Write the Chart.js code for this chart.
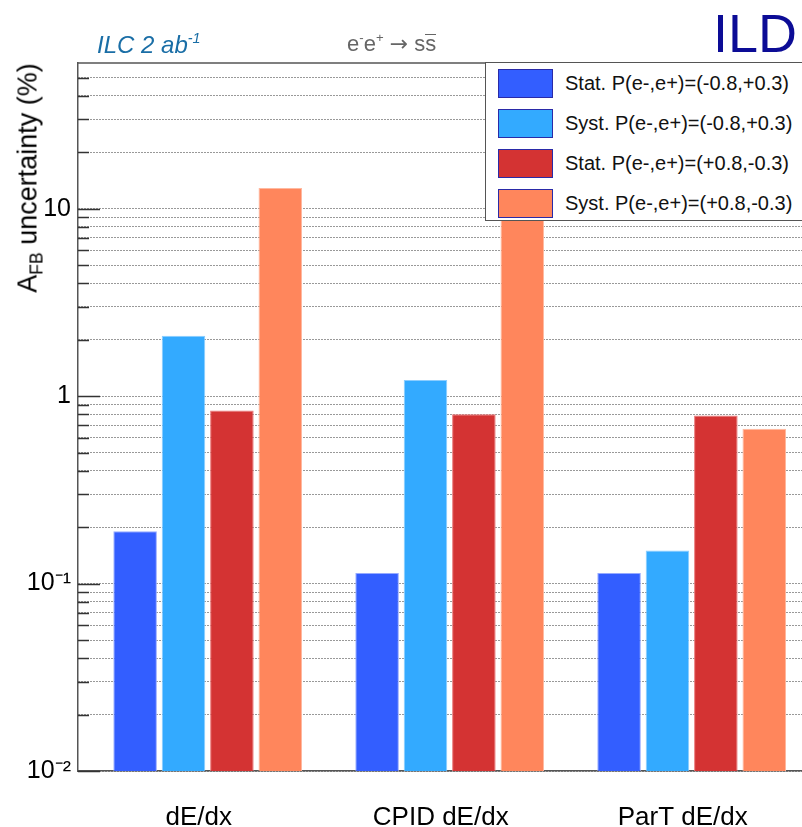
<!DOCTYPE html>
<html>
<head>
<meta charset="utf-8">
<style>
  body { margin: 0; background: #fff; font-family: "Liberation Sans", Arial, sans-serif; }
  #wrap { position: relative; width: 802px; height: 827px; overflow: hidden; }
  #chart { position: absolute; left: 0; top: 0; }
  .txt { position: absolute; white-space: nowrap; line-height: 1; }
  .sup { font-size: 60%; position: relative; top: -0.7em; }
  .bar { display: inline-block; border-top: 1.5px solid #666; line-height: 0.72; padding-top: 1px; }
  #legend { position: absolute; left: 485px; top: 62px; width: 330px; height: 159px;
            background: #fff; border: 1.5px solid #555; box-sizing: border-box; }
  .item { position: absolute; left: 12px; height: 29px; }
  .swatch { position: absolute; left: 0; top: 0; width: 55px; height: 29px;
            box-sizing: border-box; border: 1.5px solid #2a2aa8; }
  .label { position: absolute; left: 67px; top: 4px; font-size: 20px; color: #111; white-space: nowrap; line-height: 1; }
</style>
<script src="https://cdn.jsdelivr.net/npm/chart.js@4.4.0/dist/chart.umd.min.js"></script>
</head>
<body>
<div id="wrap">
  <canvas id="chart" width="802" height="827"></canvas>
  <div class="txt" style="left:97px; top:33px; font-size:24px; font-style:italic; color:#1a6ea6;">ILC 2 ab<span class="sup">-1</span></div>
  <div class="txt" style="left:347px; top:33px; font-size:22px; color:#666;">e<span class="sup">-</span>e<span class="sup">+</span> <span style="font-family:'DejaVu Sans';">&#8594;</span> s<span class="bar">s</span></div>
  <div class="txt" style="right:5px; top:6px; font-size:54px; color:#0c0c96;">ILD</div>
  <div class="txt" style="left:28px; top:178px; font-size:27px; color:#000; transform: translate(-50%, -50%) rotate(-90deg);">A<span style="font-size:65%; position:relative; top:0.35em;">FB</span> uncertainty (%)</div>
  <div id="legend"></div>
</div>
<script>
// Categories and series
const categories = ['dE/dx', 'CPID dE/dx', 'ParT dE/dx'];
const seriesNames = [
    'Stat. P(e-,e+)=(-0.8,+0.3)',
    'Syst. P(e-,e+)=(-0.8,+0.3)',
    'Stat. P(e-,e+)=(+0.8,-0.3)',
    'Syst. P(e-,e+)=(+0.8,-0.3)',
];
const statMinus = [0.19, 0.114, 0.114];
const systMinus = [2.1, 1.22, 0.15];
const statPlus = [0.84, 0.80, 0.79];
const systPlus = [12.9, 11, 0.67];

// Y axis (log) major ticks and labels
const yTickValues = [0.01, 0.1, 1, 10];
const yTickLabels = ['10\u207B\u00B2', '10\u207B\u00B9', '1', '10'];

const fillColors = ['rgb(51,94,255)', 'rgb(51,170,255)', 'rgb(212,51,51)', 'rgb(255,134,92)'];
const edgeColors = ['rgb(150,170,255)', 'rgb(140,205,255)', 'rgb(235,120,120)', 'rgb(255,185,160)'];

// grid lines at 1..9 x each decade, up to the top of the axis
const gridValues = [];
yTickValues.forEach(d => {
    for (let m = 1; m <= 9; m++) {
        if (d * m < 60) gridValues.push(d * m);
    }
});
const isMajor = v => yTickValues.some(d => Math.abs(v - d) < 1e-9);

// ROOT style tick marks inside the frame plus the top frame line
const frameTicks = {
    id: 'frameTicks',
    afterDraw(chart) {
        const { ctx, chartArea, scales } = chart;
        ctx.save();
        ctx.strokeStyle = '#333';
        ctx.lineWidth = 1.5;
        gridValues.forEach(v => {
            const y = Math.round(scales.y.getPixelForValue(v)) + 0.5;
            const len = isMajor(v) ? 22 : 11;
            ctx.beginPath();
            ctx.moveTo(chartArea.left, y);
            ctx.lineTo(chartArea.left + len, y);
            ctx.stroke();
        });
        ctx.strokeStyle = '#555';
        ctx.beginPath();
        ctx.moveTo(chartArea.left, chartArea.top);
        ctx.lineTo(chartArea.right, chartArea.top);
        ctx.stroke();
        ctx.restore();
    }
};

const seriesValues = [statMinus, systMinus, statPlus, systPlus];

new Chart(document.getElementById('chart'), {
    type: 'bar',
    data: {
        datasets: seriesValues.map((vals, k) => ({
            label: seriesNames[k],
            data: vals.map((v, i) => ({ x: i, y: v })),
            backgroundColor: fillColors[k],
            borderColor: edgeColors[k],
            borderWidth: 1,
            categoryPercentage: 0.8,
            barPercentage: 0.9,
        })),
    },
    options: {
        responsive: false,
        animation: false,
        layout: { padding: { top: 63, right: 0, bottom: 0, left: 0 } },
        plugins: {
            legend: { display: false },
            tooltip: { enabled: false },
        },
        scales: {
            x: {
                type: 'linear',
                offset: false,
                min: -0.536,
                max: 2.456,
                afterBuildTicks: s => { s.ticks = categories.map((c, i) => ({ value: i - 0.037 })); },
                afterFit: s => { s.height = 56; },
                ticks: {
                    callback: (v, i) => categories[i],
                    font: { family: 'Liberation Sans', size: 26 },
                    color: '#000',
                    padding: 31,
                    maxRotation: 0,
                    autoSkip: false,
                },
                grid: { display: false, drawTicks: false, offset: false },
                border: { color: '#555', width: 1.5 },
            },
            y: {
                type: 'logarithmic',
                min: 0.01,
                max: 60,
                z: 1,
                afterBuildTicks: s => { s.ticks = gridValues.map(v => ({ value: v })); },
                afterFit: s => { s.width = 78; },
                ticks: {
                    callback: v => {
                        const k = yTickValues.findIndex(d => Math.abs(v - d) < 1e-9);
                        return k >= 0 ? yTickLabels[k] : '';
                    },
                    font: { family: 'Liberation Sans', size: 25 },
                    color: '#000',
                    padding: 7,
                    autoSkip: false,
                },
                grid: { color: 'rgba(0,0,0,0.8)', lineWidth: 1, drawTicks: false },
                border: { color: '#555', width: 1.5, dash: [1, 2] },
            },
        },
    },
    plugins: [frameTicks],
});

// legend box drawn over the plot, as in the original
const legend = document.getElementById('legend');
seriesNames.forEach((name, k) => {
    const item = document.createElement('div');
    item.className = 'item';
    item.style.top = (6 + k * 40) + 'px';
    item.innerHTML = '<div class="swatch" style="background:' + fillColors[k] + '"></div>' +
        '<div class="label">' + name + '</div>';
    legend.appendChild(item);
});
</script>
</body>
</html>
